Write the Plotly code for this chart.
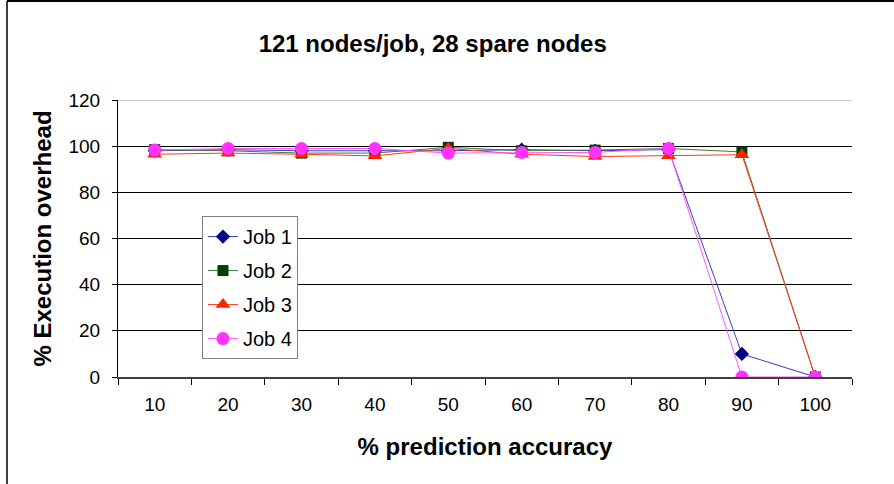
import plotly.graph_objects as go

# Prediction accuracy categories (x axis)
accuracy = ["10", "20", "30", "40", "50", "60", "70", "80", "90", "100"]

# Execution overhead (%) per job
job1 = [98, 98.5, 98, 98, 98, 98.5, 98, 98.5, 10, 0]
job2 = [98.5, 98, 97, 97, 99.5, 98, 98.3, 99, 97.5, 0]
job3 = [96.5, 97, 96.5, 95.8, 99, 96.5, 95.5, 95.8, 96.3, 0]
job4 = [98.3, 99, 99, 99, 97, 97.3, 97.3, 99, 0, 0]

tick_vals = [0, 20, 40, 60, 80, 100, 120]

FONT = "Liberation Sans, Arial, sans-serif"

series = [
    ("Job 1", job1, "#000080", "#3a3ac8", "diamond", 11),
    ("Job 2", job2, "#004000", "#3f7a3f", "square", 11),
    ("Job 3", job3, "#ff2200", "#ff3a1a", "triangle-up", 13),
    ("Job 4", job4, "#ff33ff", "#ff55ff", "circle", 13),
]

fig = go.Figure()
for i, (name, vals, mcol, lcol, sym, size) in enumerate(series):
    fig.add_trace(go.Scatter(
        x=accuracy, y=vals, name=name, mode="lines+markers",
        legendgroup=f"g{i}",
        line=dict(color=lcol, width=1),
        marker=dict(symbol=sym, size=size, color=mcol, line=dict(width=0)),
    ))

# Light plot-area edge along the top
fig.add_shape(type="line", xref="paper", yref="y", x0=0, x1=1, y0=120, y1=120,
              line=dict(color="#c8c8c8", width=2), layer="above")
# Outer chart frame (left and top edges)
fig.add_shape(type="line", xref="paper", yref="paper", x0=-0.1512, x1=-0.1512,
              y0=-0.6, y1=1.357, line=dict(color="#000000", width=1.5))
fig.add_shape(type="line", xref="paper", yref="paper", x0=-0.1512, x1=1.2,
              y0=1.357, y1=1.357, line=dict(color="#000000", width=2))

fig.update_layout(
    width=894, height=484,
    margin=dict(l=118, r=42, t=100, b=107),
    paper_bgcolor="white", plot_bgcolor="white",
    font=dict(family=FONT, color="#000000", size=19),
    title=dict(text="<b>121 nodes/job, 28 spare nodes</b>", x=0.484, xanchor="center",
               y=1 - 44 / 484, yanchor="middle", yref="container",
               font=dict(family=FONT, size=24, color="#000000")),
    showlegend=True,
    legend=dict(x=0.1144, y=0.581, xanchor="left", yanchor="top",
                bgcolor="white", bordercolor="#808080", borderwidth=1,
                font=dict(family=FONT, size=20, color="#000000"),
                tracegroupgap=5, itemwidth=30),
    xaxis=dict(
        type="category", range=[-0.5, 9.5],
        tickson="boundaries", ticks="outside", ticklen=6, tickcolor="#000000",
        showline=True, linecolor="#404040", linewidth=1.5,
        showgrid=False, zeroline=False,
        tickfont=dict(family=FONT, size=19),
        ticklabelstandoff=9,
        title=dict(text="<b>% prediction accuracy</b>", standoff=25,
                   font=dict(family=FONT, size=24)),
    ),
    yaxis=dict(
        range=[0, 120], tickvals=tick_vals, ticktext=[str(v) for v in tick_vals],
        ticks="outside", ticklen=5, tickcolor="#000000",
        showline=True, linecolor="#000000", linewidth=1,
        showgrid=True, gridcolor="#000000", gridwidth=1, zeroline=False,
        tickfont=dict(family=FONT, size=19),
        ticklabelstandoff=8,
        title=dict(text="<b>% Execution overhead</b>", standoff=10,
                   font=dict(family=FONT, size=24)),
    ),
)

fig.write_html("out.html")
